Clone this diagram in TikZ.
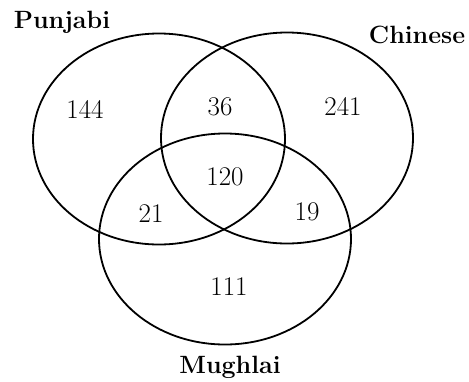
\documentclass[tikz,border=0pt]{standalone}
\usepackage{tikz}
\usetikzlibrary{shapes.geometric}

\begin{document}
\begin{tikzpicture}[x=1pt,y=-1pt,
        cuisine/.style={draw,ellipse,line width=1.8pt,minimum width=252pt,minimum height=211pt,inner sep=0pt},
        title/.style={anchor=base,font=\fontsize{25}{30}\selectfont\bfseries},
        count/.style={anchor=base,font=\fontsize{27}{32}\selectfont}]
        \useasboundingbox (0,0) rectangle (469,381);
        % the three sets
        \node[cuisine] (punjabi) at (159,139) {};
        \node[cuisine] (chinese) at (287,138) {};
        \node[cuisine] (mughlai) at (225,239) {};
        % set names
        \node[title] (tpunjabi) at (62,28) {Punjabi};
        \node[title] (tchinese) at (417,43) {Chinese};
        \node[title] (tmughlai) at (230,373) {Mughlai};
        % region counts
        \node[count] (onlyp) at (85,118) {144};
        \node[count] (pc) at (220,115) {36};
        \node[count] (onlyc) at (343,115) {241};
        \node[count] (pcm) at (225,185) {120};
        \node[count] (pm) at (151,222) {21};
        \node[count] (cm) at (307,220) {19};
        \node[count] (onlym) at (229,295) {111};
      \end{tikzpicture}
\end{document}
